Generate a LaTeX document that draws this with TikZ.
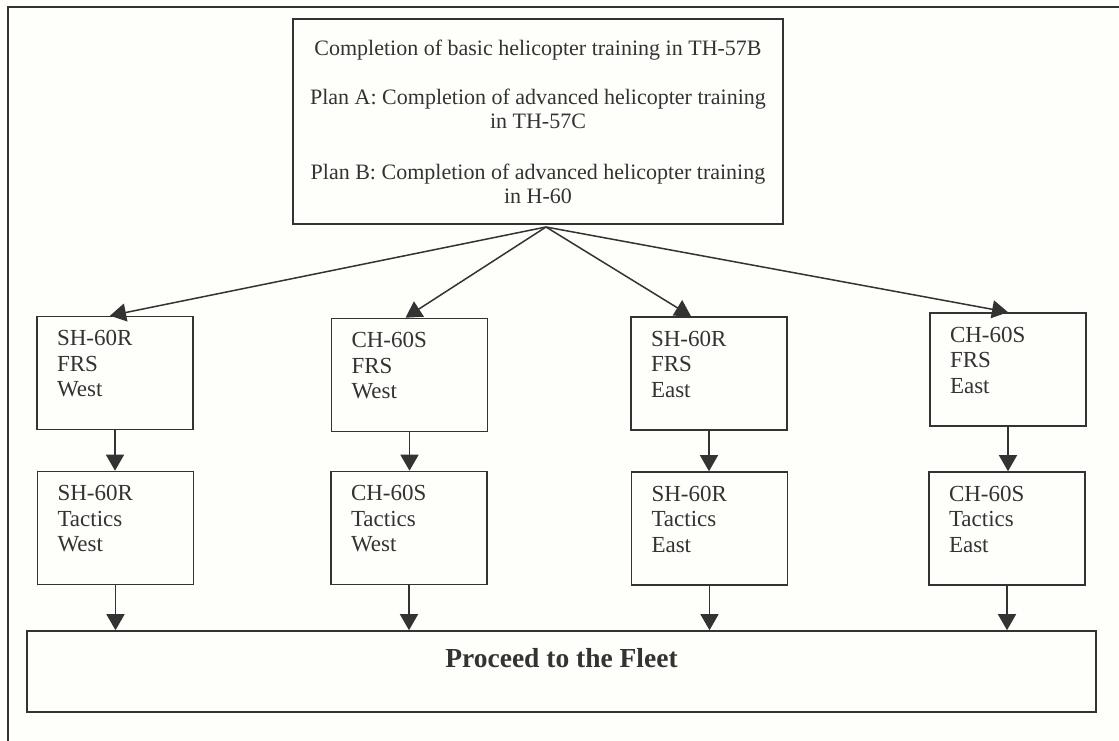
\documentclass[tikz,border=0pt]{standalone}
\usepackage{fontspec}
\setmainfont{Liberation Serif}
\usetikzlibrary{arrows.meta,calc}
\definecolor{ink}{HTML}{333333}
\definecolor{paper}{HTML}{FEFEFB}
\newcommand\colbody[3]{\parbox[c][113pt][t]{116pt}{\fontsize{23}{25.5}\selectfont\rule{0pt}{29pt}#1\\#2\\#3}}
\begin{document}
\begin{tikzpicture}[x=1pt,y=-1pt,
  every node/.style={text=ink},
  box/.style={draw=ink, line width=1.6pt, inner sep=0pt},
  col/.style={box, minimum width=156pt, minimum height=113pt},
  arr/.style={draw=ink, line width=1.5pt, -{Triangle[width=18pt,length=16pt]}}
]
\useasboundingbox (0,0) rectangle (1119,741);
\fill[paper] (0,0) rectangle (1119,741);
\draw[ink, line width=1.7pt] (1119,7) -- (8,7) -- (8,741);

\node[box, minimum width=490pt, minimum height=205pt, align=center,
      font=\fontsize{22}{23.5}\selectfont] (top) at (538,121.5)
  {Completion of basic helicopter training in TH-57B\\[26pt]
   Plan A: Completion of advanced helicopter training\\ in TH-57C\\[28pt]
   Plan B: Completion of advanced helicopter training\\ in H-60};

\node[col] (f1) at (115,373)   {\colbody{SH-60R}{FRS}{West}};
\node[col] (f2) at (409.5,375) {\colbody{CH-60S}{FRS}{West}};
\node[col] (f3) at (709,373.5) {\colbody{SH-60R}{FRS}{East}};
\node[col] (f4) at (1008,369.5){\colbody{CH-60S}{FRS}{East}};

\node[col] (t1) at (115.5,528) {\colbody{SH-60R}{Tactics}{West}};
\node[col] (t2) at (409,528)   {\colbody{CH-60S}{Tactics}{West}};
\node[col] (t3) at (709.5,528.5){\colbody{SH-60R}{Tactics}{East}};
\node[col] (t4) at (1007,528.5) {\colbody{CH-60S}{Tactics}{East}};

\node[box, minimum width=1069pt, minimum height=81pt] (fleet) at (561.5,671.5)
  {\parbox[c][81pt][t]{1000pt}{\centering\fontsize{27.5}{30}\selectfont\bfseries\rule{0pt}{36pt}Proceed to the Fleet}};

\coordinate (apex) at (546,227);
\draw[arr] (apex) -- ($(f1.north)+(-5,0)$);
\draw[arr] (apex) -- ($(f2.north)+(-4,0)$);
\draw[arr] (apex) -- ($(f3.north)+(-18,0)$);
\draw[arr] (apex) -- (f4.north);

\foreach \i in {1,2,3,4}{
  \draw[arr] (f\i.south) -- (f\i.south |- t\i.north);
  \draw[arr] (t\i.south) -- (t\i.south |- fleet.north);
}
\end{tikzpicture}
\end{document}
